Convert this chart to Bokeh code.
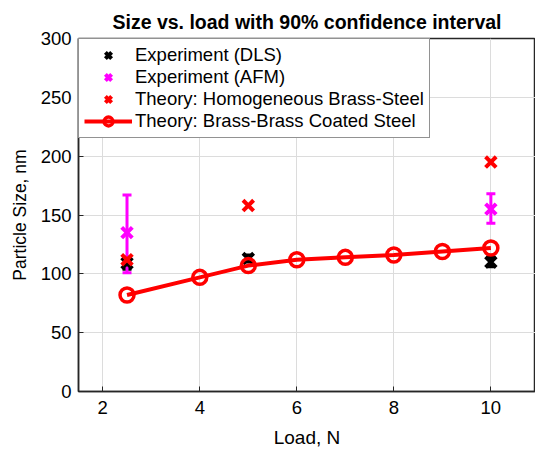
from bokeh.plotting import figure
from bokeh.models import Range1d, FixedTicker, Whisker, TeeHead, ColumnDataSource, Legend, LegendItem
from bokeh.embed import file_html
from bokeh.resources import INLINE

# Data
load_theory = [2.5, 4, 5, 6, 7, 8, 9, 10]
size_coated = [82, 97, 107, 112, 114, 116, 119, 122]

load_dls = [2.5, 5, 10]
size_dls = [109, 113, 110]
dls_lower = [104, 110, 106]
dls_upper = [114, 116, 114]

load_afm = [2.5, 10]
size_afm = [135, 155]
afm_lower = [101, 143]
afm_upper = [167, 168]

load_homog = [2.5, 5, 10]
size_homog = [112, 158, 195]

x_ticks = [2, 4, 6, 8, 10]
y_ticks = [0, 50, 100, 150, 200, 250, 300]

FONT = "Liberation Sans"
AX = "#262626"

p = figure(width=535, height=450, output_backend="svg", toolbar_location=None,
           x_range=Range1d(1.5, 10.92), y_range=Range1d(0, 300),
           min_border_left=78, min_border_right=0, min_border_top=38, min_border_bottom=59,
           title="Size vs. load with 90% confidence interval")
p.title.text_font = FONT
p.title.text_font_size = "19.5px"
p.title.text_font_style = "bold"
p.title.align = "center"
p.title.text_color = "#000000"
p.title.standoff = 12

p.outline_line_color = AX
p.outline_line_width = 1.5
p.outline_line_alpha = 1.0

for ax in (p.xaxis[0], p.yaxis[0]):
    ax.axis_line_color = AX
    ax.axis_line_width = 1.5
    ax.major_tick_line_color = AX
    ax.major_tick_in = 5
    ax.major_tick_out = 0
    ax.minor_tick_line_color = None
    ax.major_label_text_font = FONT
    ax.major_label_text_font_size = "18.5px"
    ax.major_label_text_color = "#000000"
    ax.axis_label_text_font = FONT
    ax.axis_label_text_font_style = "normal"
    ax.axis_label_text_color = "#000000"

p.xaxis.axis_label_text_font_size = "19px"
p.yaxis.axis_label_text_font_size = "17.5px"
p.xaxis.ticker = FixedTicker(ticks=x_ticks)
p.yaxis.ticker = FixedTicker(ticks=y_ticks)
p.xaxis.axis_label = "Load, N"
p.yaxis.axis_label = "Particle Size, nm"
p.xaxis.major_label_standoff = 9
p.yaxis.major_label_standoff = 7
p.xaxis.axis_label_standoff = 10
p.yaxis.axis_label_standoff = 8

p.xgrid.grid_line_color = "#dcdcdc"
p.ygrid.grid_line_color = "#dcdcdc"

# DLS
src_dls = ColumnDataSource(dict(x=load_dls, y=size_dls, lo=dls_lower, up=dls_upper))
w1 = Whisker(source=src_dls, base="x", lower="lo", upper="up", line_color="black", line_width=3,
             upper_head=TeeHead(size=9, line_color="black", line_width=3),
             lower_head=TeeHead(size=9, line_color="black", line_width=3))
p.add_layout(w1)
r_dls = p.scatter("x", "y", source=src_dls, marker="x", size=15, line_width=4, color="black")

# AFM
src_afm = ColumnDataSource(dict(x=load_afm, y=size_afm, lo=afm_lower, up=afm_upper))
w2 = Whisker(source=src_afm, base="x", lower="lo", upper="up", line_color="#ff00ff", line_width=3,
             upper_head=TeeHead(size=9, line_color="#ff00ff", line_width=3),
             lower_head=TeeHead(size=9, line_color="#ff00ff", line_width=3))
p.add_layout(w2)
r_afm = p.scatter("x", "y", source=src_afm, marker="x", size=15, line_width=4, color="#ff00ff")

# Homogeneous
r_hom = p.scatter(load_homog, size_homog, marker="x", size=15, line_width=4, color="#ff0000")

# Coated
r_line = p.line(load_theory, size_coated, line_color="#ff0000", line_width=4)
r_circ = p.scatter(load_theory, size_coated, marker="circle", size=14, line_width=3.5,
                   line_color="#ff0000", fill_color=None)

legend = Legend(items=[
    LegendItem(label="Experiment (DLS)", renderers=[r_dls]),
    LegendItem(label="Experiment (AFM)", renderers=[r_afm]),
    LegendItem(label="Theory: Homogeneous Brass-Steel", renderers=[r_hom]),
    LegendItem(label="Theory: Brass-Brass Coated Steel", renderers=[r_line, r_circ]),
], location="top_left")
legend.margin = 0
legend.padding = 5
legend.spacing = 0
legend.label_height = 22
legend.glyph_height = 22
legend.glyph_width = 48
legend.label_standoff = 3
legend.label_text_font = FONT
legend.label_text_font_size = "18.5px"
legend.label_text_color = "#000000"
legend.border_line_color = AX
legend.border_line_width = 1.5
legend.background_fill_alpha = 1.0
p.add_layout(legend, "center")

open("out.html", "w").write(file_html(p, INLINE))
